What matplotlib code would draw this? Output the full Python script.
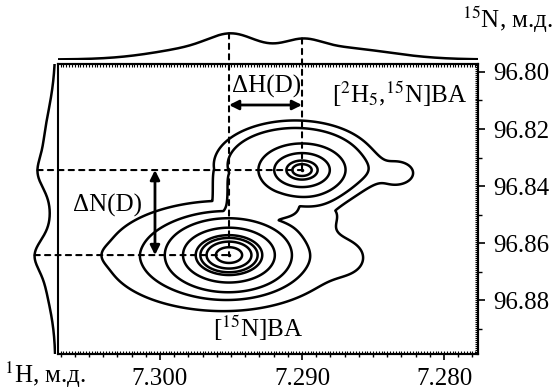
import numpy as np
import matplotlib
matplotlib.use("Agg")
import matplotlib.pyplot as plt
from matplotlib.ticker import MultipleLocator, FormatStrFormatter, NullFormatter
from matplotlib.patches import ConnectionPatch

plt.rcParams['font.family'] = ['Liberation Serif', 'DejaVu Serif']
plt.rcParams['mathtext.fontset'] = 'stix'

# cross peaks: [15N]BA and [2H5,15N]BA (1H ppm, 15N ppm)
peak_h = [7.29514, 7.29000]
peak_n = [96.86421, 96.83439]
peak_amp = [0.935, 0.56]
peak_sh = [0.00176, 0.00127]
peak_sn = [0.00526, 0.00386]

# flat low-level shelves that give the outer joined contours
shelf_h = [7.29563, 7.29049, 7.29296]
shelf_n = [96.86456, 96.83263, 96.84140]
shelf_amp = [0.065, 0.065, 0.065]
shelf_sh = [0.00655, 0.00514, 0.00268]
shelf_sn = [0.01544, 0.01404, 0.01053]
shelf_pow = [2, 4, 2]
shelf_m = [2, 2, 4]

# weak shoulders on the lowest contour
tail_h = [7.30338, 7.28345, 7.28662, 7.28873]
tail_n = [96.86421, 96.83544, 96.86526, 96.84912]
tail_amp = [0.006, 0.030, 0.020, 0.022]
tail_sh = [0.00085, 0.00141, 0.00127, 0.00155]
tail_sn = [0.00246, 0.00456, 0.00561, 0.00421]

levels = [0.02, 0.05, 0.095, 0.236, 0.45, 0.55, 0.69, 0.88]

# 1D traces: 1H on top, 15N at the left
top_pos = [7.29493, 7.29648, 7.28993, 7.28768]
top_amp = [0.500, 0.500, 0.346, 0.462]
top_w = [0.00155, 0.00352, 0.00127, 0.00366]
side_pos = [96.83579, 96.82737, 96.86386, 96.86947]
side_amp = [0.308, 0.462, 0.423, 0.423]
side_w = [0.00491, 0.01333, 0.00491, 0.01158]

xlim = (7.30718, 7.27761)
ylim = (96.8989, 96.7972)

W, H = 556, 389
fig = plt.figure(figsize=(W / 100, H / 100), dpi=100)


def box(x0, y0, x1, y1):
    return [x0 / W, 1 - y1 / H, (x1 - x0) / W, (y1 - y0) / H]


ax = fig.add_axes(box(58, 64, 478, 354))
axt = fig.add_axes(box(58, 20, 478, 60))
axl = fig.add_axes(box(16, 64, 56, 354))

hx = np.linspace(xlim[1], xlim[0], 600)
ny = np.linspace(ylim[1], ylim[0], 450)
X, Y = np.meshgrid(hx, ny)


def q(h0, n0, sh, sn, m=2):
    d = np.abs((X - h0) / sh) ** m + np.abs((Y - n0) / sn) ** m
    return d ** (2 / m)


Z = np.zeros_like(X)
for h0, n0, a, sh, sn in zip(peak_h, peak_n, peak_amp, peak_sh, peak_sn):
    Z += a * np.exp(-0.5 * q(h0, n0, sh, sn))
for h0, n0, a, sh, sn in zip(tail_h, tail_n, tail_amp, tail_sh, tail_sn):
    Z += a * np.exp(-0.5 * q(h0, n0, sh, sn))
shelf = np.zeros_like(X)
for h0, n0, a, sh, sn, p, m in zip(shelf_h, shelf_n, shelf_amp, shelf_sh,
                                   shelf_sn, shelf_pow, shelf_m):
    shelf = np.maximum(shelf, a * np.exp(-0.5 * q(h0, n0, sh, sn, m) ** p))
Z += shelf

ax.contour(X, Y, Z, levels=levels, colors='k', linewidths=1.8)
ax.plot(peak_h, peak_n, 'k.', ms=3)
ax.set_xlim(xlim)
ax.set_ylim(ylim)

ax.yaxis.tick_right()
ax.yaxis.set_major_locator(MultipleLocator(0.02))
ax.yaxis.set_minor_locator(MultipleLocator(0.01))
ax.yaxis.set_major_formatter(FormatStrFormatter('%.2f'))
ax.xaxis.set_major_locator(MultipleLocator(0.01))
ax.xaxis.set_minor_locator(MultipleLocator(0.001))
ax.xaxis.set_major_formatter(FormatStrFormatter('%.3f'))
ax.tick_params(axis='y', which='major', direction='out', length=5, width=1.2,
               labelsize=18, pad=6)
ax.tick_params(axis='y', which='minor', direction='out', length=3, width=1.0)
ax.tick_params(axis='x', which='major', direction='out', length=4, width=1.2,
               labelsize=18, pad=6)
ax.tick_params(axis='x', which='minor', direction='out', length=2.5, width=1.0)
for s in ax.spines.values():
    s.set_linewidth(1.5)

# fine dotted ruler just inside the frame
for side in ['top', 'bottom']:
    sec = ax.secondary_xaxis(side)
    sec.xaxis.set_major_locator(MultipleLocator(0.0002))
    sec.xaxis.set_major_formatter(NullFormatter())
    sec.tick_params(direction='in', length=2, width=0.8)
    sec.spines[side].set_linewidth(1.5)
secy = ax.secondary_yaxis('right')
secy.yaxis.set_major_locator(MultipleLocator(0.0007))
secy.yaxis.set_major_formatter(NullFormatter())
secy.tick_params(direction='in', length=2, width=0.8)
secy.spines['right'].set_linewidth(1.5)


def trace(t, pos, amp, w):
    out = np.zeros_like(t, dtype=float)
    for p, a, s in zip(pos, amp, w):
        out += a * np.exp(-0.5 * ((t - p) / s) ** 2)
    return out


th = np.linspace(xlim[0], xlim[1], 600)
axt.plot(th, trace(th, top_pos, top_amp, top_w), 'k', lw=1.8)
axt.set_xlim(xlim)
axt.set_ylim(-0.02, 40 / 26)
axt.axis('off')

tn = np.linspace(ylim[0], ylim[1], 600)
axl.plot(trace(tn, side_pos, side_amp, side_w), tn, 'k', lw=1.8)
axl.set_ylim(ylim)
axl.set_xlim(40 / 26, -0.02)
axl.axis('off')

# dashed guides from the traces to the peaks
dash = dict(color='k', lw=1.5, linestyle=(0, (2.5, 2.5)))
for h0, n0 in zip(peak_h, peak_n):
    top = trace(np.array([h0]), top_pos, top_amp, top_w)[0]
    fig.add_artist(ConnectionPatch((h0, top), (h0, n0), 'data', 'data',
                                   axesA=axt, axesB=ax, **dash))
    side = trace(np.array([n0]), side_pos, side_amp, side_w)[0]
    fig.add_artist(ConnectionPatch((side, n0), (h0, n0), 'data', 'data',
                                   axesA=axl, axesB=ax, **dash))

arr = dict(arrowstyle='<|-|>', color='k', lw=2, mutation_scale=14,
           shrinkA=0, shrinkB=0)
y_arrow = 96.80 + (105 - 72) / 2850
ax.annotate('', xy=(peak_h[1], y_arrow), xytext=(peak_h[0], y_arrow),
            arrowprops=arr)
x_arrow = 7.300 + 5 / 14200
ax.annotate('', xy=(x_arrow, peak_n[1]), xytext=(x_arrow, peak_n[0]),
            arrowprops=arr)


def ftext(px, py, s, **kw):
    fig.text(px / W, 1 - py / H, s, fontsize=18, va='center', **kw)


ftext(267, 86, 'ΔH(D)', ha='center')
ftext(107, 205, 'ΔN(D)', ha='center')
ftext(400, 94, r'[$^{2}$H$_{5}$,$^{15}$N]BA', ha='center')
ftext(258, 328, r'[$^{15}$N]BA', ha='center')
ftext(553, 20, r'$^{15}$N, м.д.', ha='right')
ftext(4, 375, r'$^{1}$H, м.д.', ha='left')

fig.savefig('out.png', dpi=100)
